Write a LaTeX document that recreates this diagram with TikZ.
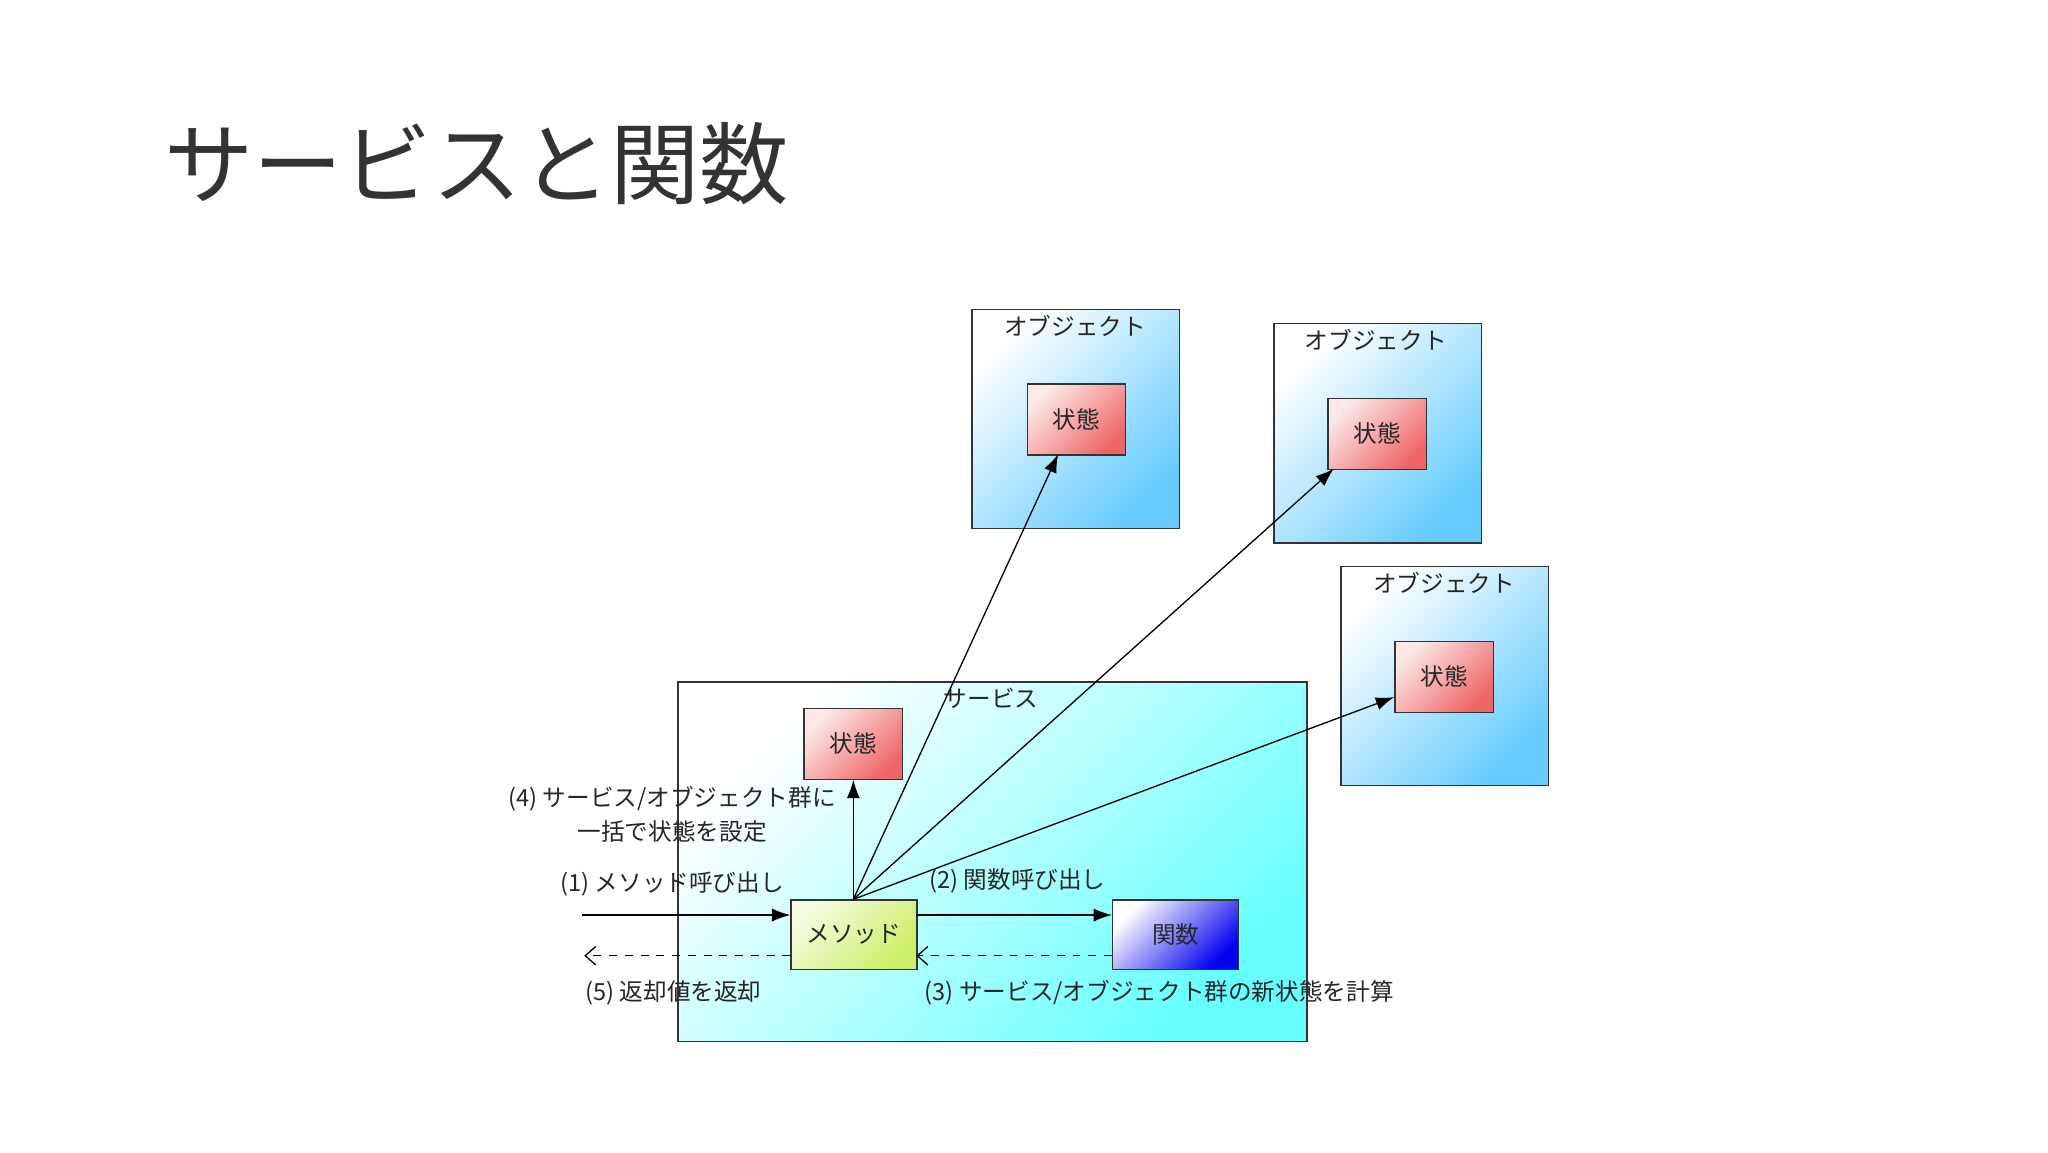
\documentclass[tikz,border=0pt]{standalone}
\usepackage{fontspec}
\setmainfont{Noto Sans CJK JP}
\newfontfamily\jp{Noto Sans CJK JP}
\usetikzlibrary{arrows.meta}
\definecolor{objc}{HTML}{66CCFF}
\definecolor{stc}{HTML}{EE6666}
\definecolor{svc}{HTML}{66FFFF}
\definecolor{mtc}{HTML}{CCEE66}
\definecolor{fnc}{HTML}{0000EE}
\tikzset{
 box/.style={draw=black!80, line width=0.5pt, inner sep=0pt, anchor=north west},
 objbox/.style={box, top color=white, bottom color=objc, shading angle=45, minimum width=79pt, minimum height=83.5pt},
 statebox/.style={box, top color=white!85!stc, bottom color=stc, shading angle=45, minimum width=37.5pt, minimum height=27pt},
 lbl/.style={font=\jp\fontsize{9pt}{13pt}\selectfont, text=black!85},
 arr/.style={-{Latex[length=7pt,width=5pt]}, line width=0.5pt},
 darr/.style={-{Straight Barb[length=4pt,width=7pt]}, dashed, line width=0.5pt}
}
\begin{document}
\begin{tikzpicture}[x=0.5pt,y=-0.5pt]
\useasboundingbox (0,0) rectangle (1560,878);
\node[anchor=west, font=\jp\fontsize{34pt}{40pt}\selectfont, text=black!80] (title) at (118,125) {サービスと関数};
\node[box, top color=white, bottom color=svc, shading angle=45, minimum width=239.5pt, minimum height=137pt] (svc) at (516,519) {};
\node[lbl] (svcl) at (755,532) {サービス};
\node[objbox] (o1) at (740,235) {};
\node[objbox] (o2) at (970,246) {};
\node[objbox] (o3) at (1021,431) {};
\node[lbl] (o1l) at (819,248) {オブジェクト};
\node[lbl] (o2l) at (1048,259) {オブジェクト};
\node[lbl] (o3l) at (1100,444) {オブジェクト};
\node[statebox] (s1) at (782,292) {};
\node[lbl] at (s1.center) {状態};
\node[statebox] (s2) at (1011,303) {};
\node[lbl] at (s2.center) {状態};
\node[statebox] (s3) at (1062,488) {};
\node[lbl] at (s3.center) {状態};
\node[statebox] (s0) at (612,539) {};
\node[lbl] at (s0.center) {状態};
\node[box, top color=white!80!mtc, bottom color=mtc, shading angle=45, minimum width=48pt, minimum height=26.5pt] (m) at (602,685) {};
\node[lbl] at (m.center) {メソッド};
\node[box, top color=white, bottom color=fnc, shading angle=45, minimum width=48pt, minimum height=26.5pt] (f) at (847,685) {};
\node[lbl] at (f.center) {関数};
\coordinate (mt) at (650,685);
\draw[arr] (mt) -- (s0.south);
\draw[arr] (mt) -- (806,346);
\draw[arr] (mt) -- (1016,357);
\draw[arr] (mt) -- (1062,531);
\coordinate (in) at (443,697);
\coordinate (out) at (445,728);
\draw[arr] (in) -- (602,697);
\draw[arr] (698,697) -- (847,697);
\draw[darr] (847,728) -- (698,728);
\draw[darr] (602,728) -- (out);
\node[lbl] at (512,673) {(1) メソッド呼び出し};
\node[lbl] at (775,671) {(2) 関数呼び出し};
\node[lbl] at (883,756) {(3) サービス/オブジェクト群の新状態を計算};
\node[lbl, align=center] at (512,620) {(4) サービス/オブジェクト群に\\一括で状態を設定};
\node[lbl] at (513,756) {(5) 返却値を返却};
\end{tikzpicture}
\end{document}
